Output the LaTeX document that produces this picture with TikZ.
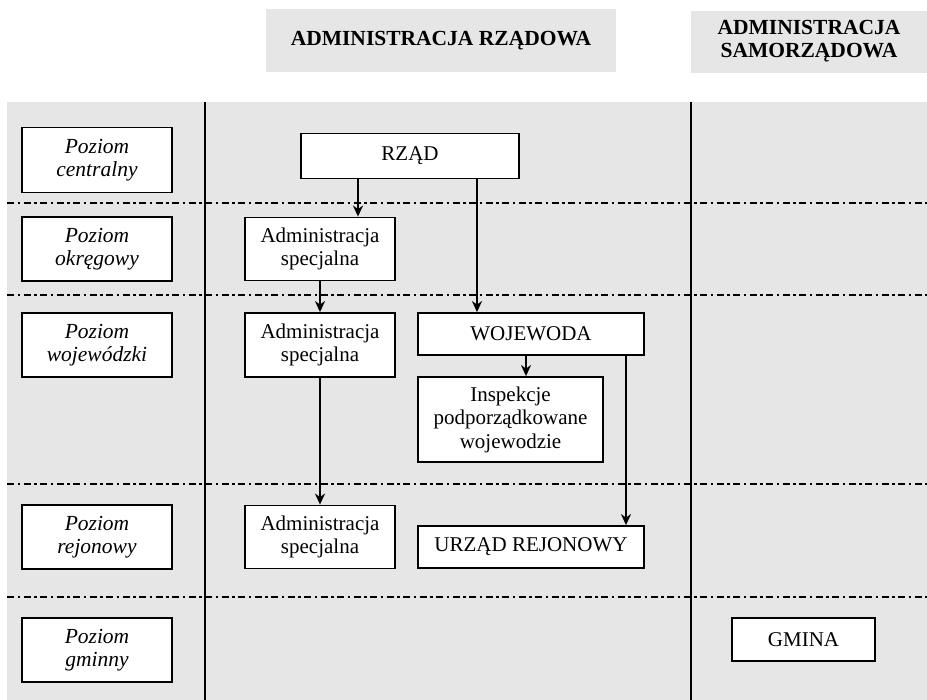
\documentclass[tikz,border=0pt]{standalone}
\usepackage{fontspec}
\setmainfont{Liberation Serif}
\usetikzlibrary{arrows.meta}
\definecolor{panel}{RGB}{230,230,230}
\begin{document}
\begin{tikzpicture}[x=1pt,y=-1pt,
  box/.style={draw=black, line width=1.8pt, fill=white, inner sep=0pt, align=center,
              font=\fontsize{21}{23.5}\selectfont},
  levelbox/.style={box, minimum width=150pt, minimum height=64pt,
              font=\fontsize{21.5}{23.5}\selectfont\itshape},
  adminbox/.style={box, minimum width=150pt, minimum height=63pt},
  headbox/.style={fill=panel, inner sep=0pt, align=center,
              font=\fontsize{21.5}{23.5}\selectfont\bfseries},
  sep/.style={line width=1.9pt},
  levelline/.style={line width=1.8pt, dash pattern=on 7pt off 3.5pt on 2.5pt off 3.5pt},
  arr/.style={line width=1.8pt, -{Stealth[length=11pt,width=10pt,inset=3.5pt]}}
]
\useasboundingbox (0,0) rectangle (927,700);

% column headers
\node[headbox, minimum width=350pt, minimum height=63pt] (hrz) at (441,40.5) {ADMINISTRACJA RZĄDOWA};
\node[headbox, minimum width=236pt, minimum height=62pt, text depth=6pt] (hsam) at (809,42) {ADMINISTRACJA\\SAMORZĄDOWA};

% grey panel with column separators and level separators
\fill[panel] (7,102) rectangle (927,700);
\coordinate (v1t) at (205,102); \coordinate (v1b) at (205,700);
\coordinate (v2t) at (691,102); \coordinate (v2b) at (691,700);
\draw[sep] (v1t) -- (v1b);
\draw[sep] (v2t) -- (v2b);
\foreach \yy in {203,295,484,597}{
  \draw[levelline] (7,\yy) -- (927,\yy);
}

% administrative levels
\node[levelbox, minimum height=65pt] (lc) at (97,160) {Poziom\\centralny};
\node[levelbox] (lo) at (97,249) {Poziom\\okręgowy};
\node[levelbox] (lw) at (97,345) {Poziom\\wojewódzki};
\node[levelbox] (lr) at (97,537) {Poziom\\rejonowy};
\node[levelbox] (lg) at (97,650) {Poziom\\gminny};

% government administration
\node[box, minimum width=218pt, minimum height=45pt] (rzad) at (410,156) {RZĄD};
\node[adminbox] (a1) at (320,249) {Administracja\\specjalna};
\node[adminbox, minimum height=64pt] (a2) at (320,345) {Administracja\\specjalna};
\node[adminbox] (a3) at (320,537) {Administracja\\specjalna};
\node[box, minimum width=226pt, minimum height=42pt] (woj) at (531,334) {WOJEWODA};
\node[box, minimum width=185pt, minimum height=85pt] (insp) at (510.5,419.5) {Inspekcje\\podporządkowane\\wojewodzie};
\node[box, minimum width=226pt, minimum height=42pt] (urz) at (531,547) {URZĄD REJONOWY};

% self-government
\node[box, minimum width=143pt, minimum height=43pt] (gmina) at (803.5,639.5) {GMINA};

% subordination
\draw[arr] ([xshift=-52pt]rzad.south) -- ([xshift=-52pt]rzad.south |- a1.north);
\draw[arr] ([xshift=67pt]rzad.south) -- ([xshift=67pt]rzad.south |- woj.north);
\draw[arr] (a1.south) -- (a2.north);
\draw[arr] (a2.south) -- (a3.north);
\draw[arr] ([xshift=-5pt]woj.south) -- ([xshift=-5pt]woj.south |- insp.north);
\draw[arr] ([xshift=95pt]woj.south) -- ([xshift=95pt]woj.south |- urz.north);
\end{tikzpicture}
\end{document}
